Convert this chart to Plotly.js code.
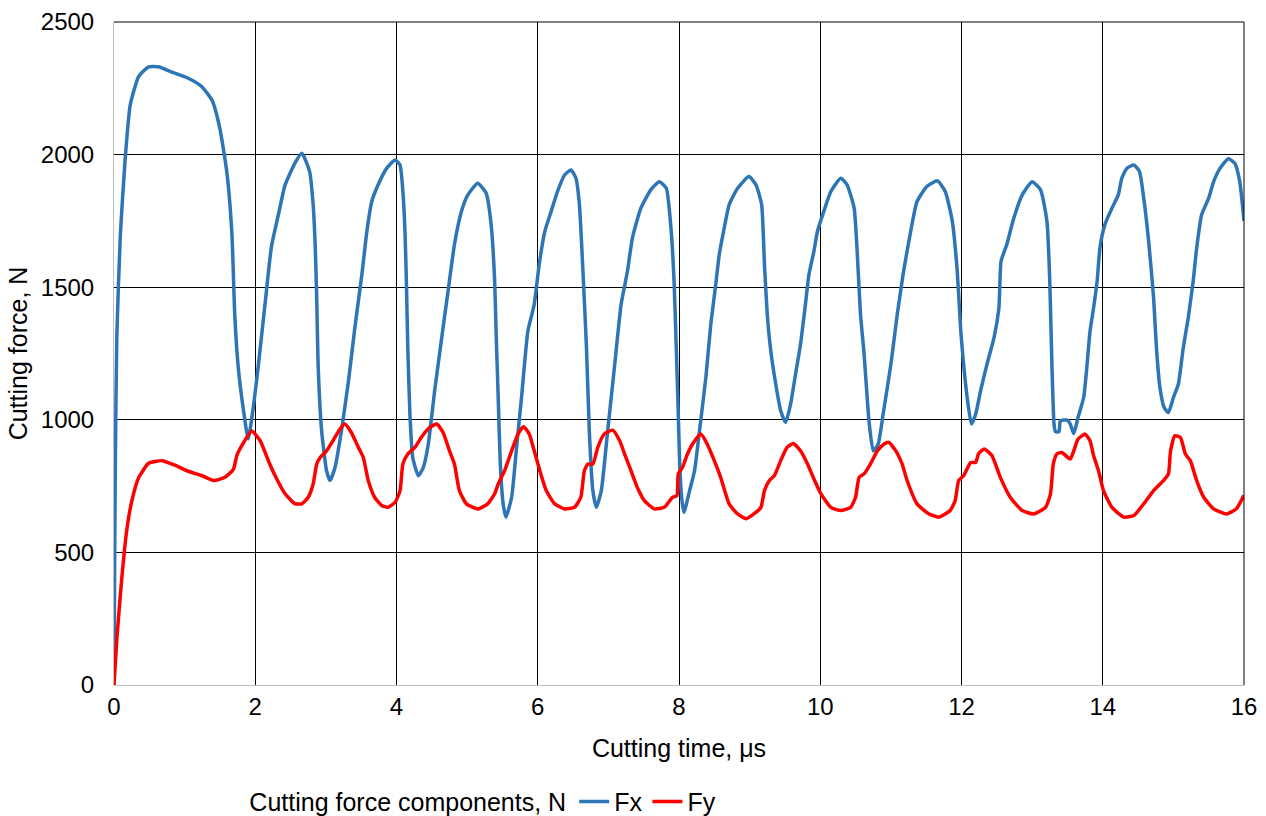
<!DOCTYPE html>
<html>
<head>
<meta charset="utf-8">
<script src="https://cdn.plot.ly/plotly-3.0.1.min.js"></script>
<style>html,body{margin:0;padding:0;background:#fff;}#chart{width:1266px;height:816px;}</style>
</head>
<body>
<div id="chart"></div>
<script>
// Fx: time (µs) and force (N)
const fxTime = [0,0.01,0.02,0.04,0.09,0.16,0.23,0.35,0.49,0.63,0.82,1.05,1.24,1.39,1.50,1.60,1.67,1.71,1.76,1.83,1.90,1.97,2.04,2.14,2.23,2.33,2.42,2.56,2.66,2.77,2.82,2.85,2.87,2.89,2.94,3.01,3.06,3.13,3.22,3.32,3.41,3.51,3.58,3.65,3.74,3.86,3.98,4.05,4.09,4.12,4.14,4.16,4.19,4.23,4.31,4.38,4.45,4.54,4.64,4.73,4.82,4.92,5.01,5.15,5.27,5.34,5.39,5.41,5.44,5.47,5.51,5.55,5.63,5.70,5.77,5.86,5.95,6.02,6.10,6.19,6.28,6.38,6.47,6.54,6.59,6.64,6.69,6.73,6.78,6.83,6.90,6.99,7.09,7.18,7.27,7.34,7.46,7.60,7.72,7.82,7.89,7.93,7.96,7.99,8.01,8.04,8.07,8.15,8.22,8.29,8.38,8.45,8.52,8.57,8.64,8.71,8.83,8.99,9.09,9.17,9.21,9.25,9.30,9.37,9.44,9.51,9.58,9.65,9.72,9.79,9.84,9.91,9.96,10.05,10.15,10.29,10.38,10.48,10.52,10.57,10.62,10.69,10.75,10.82,10.89,11.00,11.09,11.18,11.28,11.37,11.51,11.66,11.77,11.87,11.94,11.99,12.03,12.08,12.14,12.20,12.27,12.36,12.46,12.53,12.56,12.64,12.74,12.86,13.00,13.12,13.21,13.25,13.28,13.31,13.33,13.38,13.40,13.50,13.54,13.59,13.65,13.73,13.77,13.82,13.87,13.92,13.96,14.03,14.13,14.22,14.27,14.34,14.44,14.52,14.58,14.65,14.72,14.76,14.81,14.87,14.93,15.00,15.07,15.14,15.21,15.28,15.33,15.40,15.50,15.57,15.66,15.78,15.87,15.94,16.00];
const fxForce = [0,500,861,1317,1699,1990,2188,2295,2331,2331,2311,2288,2257,2204,2097,1929,1699,1395,1196,1042,928,1042,1196,1440,1654,1776,1883,1967,2005,1936,1811,1648,1460,1209,958,808,771,821,958,1146,1347,1548,1710,1823,1886,1948,1980,1961,1861,1710,1522,1272,1021,858,789,821,908,1109,1309,1485,1660,1786,1848,1892,1854,1736,1522,1334,1084,833,683,633,708,896,1084,1334,1435,1585,1710,1786,1861,1923,1942,1911,1811,1560,1272,958,733,670,733,958,1209,1435,1560,1685,1798,1867,1898,1873,1710,1522,1284,1021,833,700,651,733,808,958,1159,1360,1510,1623,1723,1811,1873,1917,1886,1811,1585,1397,1259,1134,1034,990,1059,1172,1284,1435,1548,1635,1710,1786,1861,1911,1886,1798,1648,1397,1250,996,883,908,1021,1209,1397,1560,1710,1823,1880,1901,1861,1748,1560,1334,1209,1084,984,1021,1109,1209,1309,1422,1598,1660,1760,1848,1898,1867,1748,1522,1209,984,955,955,996,999,984,948,1009,1084,1184,1334,1422,1522,1648,1736,1798,1848,1911,1948,1961,1936,1836,1673,1460,1272,1121,1046,1027,1084,1134,1272,1384,1522,1648,1773,1836,1898,1948,1984,1967,1898,1750];

// Fy: time (µs) and force (N)
const fyTime = [0,0.04,0.11,0.18,0.25,0.35,0.49,0.68,0.87,1.05,1.24,1.41,1.57,1.69,1.74,1.83,1.95,2.07,2.19,2.28,2.42,2.56,2.66,2.75,2.82,2.87,2.92,3.01,3.10,3.20,3.27,3.36,3.46,3.53,3.60,3.69,3.79,3.88,3.98,4.05,4.09,4.16,4.26,4.35,4.47,4.57,4.66,4.75,4.82,4.89,4.99,5.15,5.29,5.39,5.44,5.53,5.63,5.72,5.80,5.88,5.95,6.03,6.12,6.24,6.38,6.52,6.61,6.66,6.71,6.78,6.85,6.94,7.06,7.16,7.23,7.32,7.41,7.51,7.65,7.79,7.91,7.97,7.99,8.05,8.12,8.19,8.31,8.40,8.50,8.59,8.71,8.83,8.95,9.06,9.16,9.21,9.28,9.35,9.44,9.53,9.62,9.72,9.82,9.92,10.01,10.15,10.29,10.43,10.50,10.55,10.62,10.71,10.81,10.90,10.97,11.07,11.16,11.23,11.37,11.54,11.68,11.84,11.91,11.96,12.03,12.13,12.20,12.24,12.32,12.43,12.55,12.69,12.86,13.02,13.19,13.26,13.30,13.35,13.42,13.54,13.59,13.65,13.75,13.82,13.87,13.94,14.01,14.13,14.30,14.44,14.58,14.72,14.86,14.93,14.96,15.02,15.10,15.17,15.24,15.33,15.43,15.57,15.75,15.89,15.96,16.00];
const fyForce = [0,173,402,583,691,782,836,846,828,806,790,771,783,813,866,912,958,921,843,790,722,684,683,708,758,833,858,883,921,965,984,952,896,858,771,708,677,670,689,733,833,871,896,933,971,984,952,883,833,733,683,664,683,721,758,808,883,946,974,946,883,808,733,683,664,670,708,808,833,833,896,946,961,921,871,808,745,695,664,670,708,714,796,821,871,908,946,908,846,783,683,645,627,645,670,733,771,789,846,896,911,883,833,771,721,670,658,670,708,783,796,833,883,908,915,883,833,771,683,645,633,658,695,771,789,839,839,871,890,865,783,708,658,645,670,721,833,871,877,852,883,927,946,921,865,808,733,670,633,639,683,733,771,796,883,940,933,871,846,771,708,664,645,664,695,715];

const xTickVals = [0,2,4,6,8,10,12,14,16];
const yTickVals = [0,500,1000,1500,2000,2500];

const FONT = 'Liberation Sans, Arial, sans-serif';
const FS_TICK = 24;
const FS_TITLE = 25;

const traces = [
  {x: fxTime, y: fxForce, name: 'Fx', type: 'scatter', mode: 'lines',
   line: {color: '#2e75b6', width: 3.5, shape: 'spline', smoothing: 0.5}},
  {x: fyTime, y: fyForce, name: 'Fy', type: 'scatter', mode: 'lines',
   line: {color: '#ff0000', width: 3.5, shape: 'spline', smoothing: 0.5}}
];

const layout = {
  width: 1266, height: 816,
  paper_bgcolor: '#ffffff', plot_bgcolor: '#ffffff',
  margin: {l: 114, r: 22, t: 22, b: 131, autoexpand: false},
  font: {family: FONT, size: FS_TICK, color: '#000'},
  showlegend: true,
  legend: {
    orientation: 'h', x: 0.118, xanchor: 'left', y: -0.176, yanchor: 'middle',
    title: {text: 'Cutting force components, N', side: 'left', font: {size: FS_TITLE}},
    font: {size: FS_TITLE}, itemwidth: 30, tracegroupgap: 0, bgcolor: 'rgba(0,0,0,0)'
  },
  xaxis: {
    range: [0, 16], tickvals: xTickVals, ticktext: xTickVals.map(String),
    showgrid: true, gridcolor: '#000', gridwidth: 1, zeroline: false,
    showline: true, linecolor: '#bfbfbf', linewidth: 1,
    ticks: '', tickfont: {size: FS_TICK},
    title: {text: 'Cutting time, \u03bcs', font: {size: FS_TITLE}, standoff: 20}
  },
  yaxis: {
    range: [0, 2500], tickvals: yTickVals, ticktext: yTickVals.map(String),
    showgrid: true, gridcolor: '#000', gridwidth: 1, zeroline: false,
    showline: true, linecolor: '#bfbfbf', linewidth: 1,
    ticks: '', tickfont: {size: FS_TICK}, ticklabelstandoff: 14,
    title: {text: 'Cutting force, N', font: {size: FS_TITLE}, standoff: 6}
  },
  shapes: [
    {type: 'line', xref: 'paper', yref: 'paper', x0: 0, x1: 1, y0: 1, y1: 1, line: {color: '#000', width: 1}},
    {type: 'line', xref: 'paper', yref: 'paper', x0: 1, x1: 1, y0: 0, y1: 1, line: {color: '#000', width: 1}}
  ]
};

Plotly.newPlot('chart', traces, layout, {displayModeBar: false, staticPlot: true});
</script>
</body>
</html>
